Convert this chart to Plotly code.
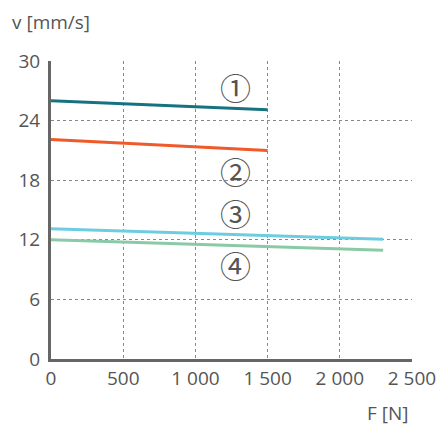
import plotly.graph_objects as go

force_short = [0, 1500]
force_long = [0, 2300]
v1 = [26.0, 25.1]
v2 = [22.1, 21.0]
v3 = [13.1, 12.05]
v4 = [12.0, 10.95]

x_ticks = [0, 500, 1000, 1500, 2000, 2500]
x_tick_labels = ["0", "500", "1 000", "1 500", "2 000", "2 500"]
y_ticks = [0, 6, 12, 18, 24, 30]
y_tick_labels = ["0", "6", "12", "18", "24", "30"]

labels = ["①", "②", "③", "④"]
label_x = [1280, 1280, 1280, 1280]
label_y = [27.4, 19.0, 14.7, 9.5]

colors = ["#17727f", "#f05a2a", "#6dcde0", "#8bcaa6"]

fig = go.Figure()
series = [(force_short, v1), (force_short, v2), (force_long, v3), (force_long, v4)]
for (xs, ys), c in zip(series, colors):
    fig.add_trace(go.Scatter(x=xs, y=ys, mode="lines",
                             line=dict(color=c, width=3), showlegend=False,
                             hoverinfo="skip"))

for t, x, y in zip(labels, label_x, label_y):
    fig.add_annotation(x=x, y=y, text=t, showarrow=False, xref="x", yref="y",
                       font=dict(family="Noto Sans CJK JP", size=31, color="#555555"))

fig.add_annotation(x=-0.1136, y=1.131, xref="paper", yref="paper",
                   text="v [mm/s]", showarrow=False, xanchor="left", yanchor="middle",
                   font=dict(family="Open Sans", size=19, color="#555555"))
fig.add_annotation(x=0.994, y=-0.181, xref="paper", yref="paper", text="F [N]",
                   showarrow=False, xanchor="right", yanchor="middle",
                   font=dict(family="Open Sans", size=19, color="#555555"))

fig.update_layout(
    width=439, height=427,
    margin=dict(l=51, r=27, t=61, b=68, autoexpand=False),
    paper_bgcolor="white", plot_bgcolor="white",
    font=dict(family="Open Sans", size=19, color="#555555"),
)
fig.update_xaxes(range=[0, 2500], tickvals=x_ticks, ticktext=x_tick_labels,
                 showline=True, linecolor="#666666", linewidth=3,
                 showgrid=True, gridcolor="#888888", griddash="dot", gridwidth=1,
                 zeroline=False, ticks="", ticklabelstandoff=0, automargin=False,
                 tickfont=dict(size=19, color="#555555"))
fig.update_yaxes(range=[0, 30], tickvals=y_ticks, ticktext=y_tick_labels,
                 showline=True, linecolor="#666666", linewidth=3,
                 showgrid=True, gridcolor="#888888", griddash="dot", gridwidth=1,
                 zeroline=False, ticks="", ticklabelstandoff=4, automargin=False,
                 tickfont=dict(size=19, color="#555555"))

fig.write_html(
    "out.html",
    config={"displayModeBar": False},
    post_script="document.body.style.margin='0';document.body.style.overflow='hidden';",
)
